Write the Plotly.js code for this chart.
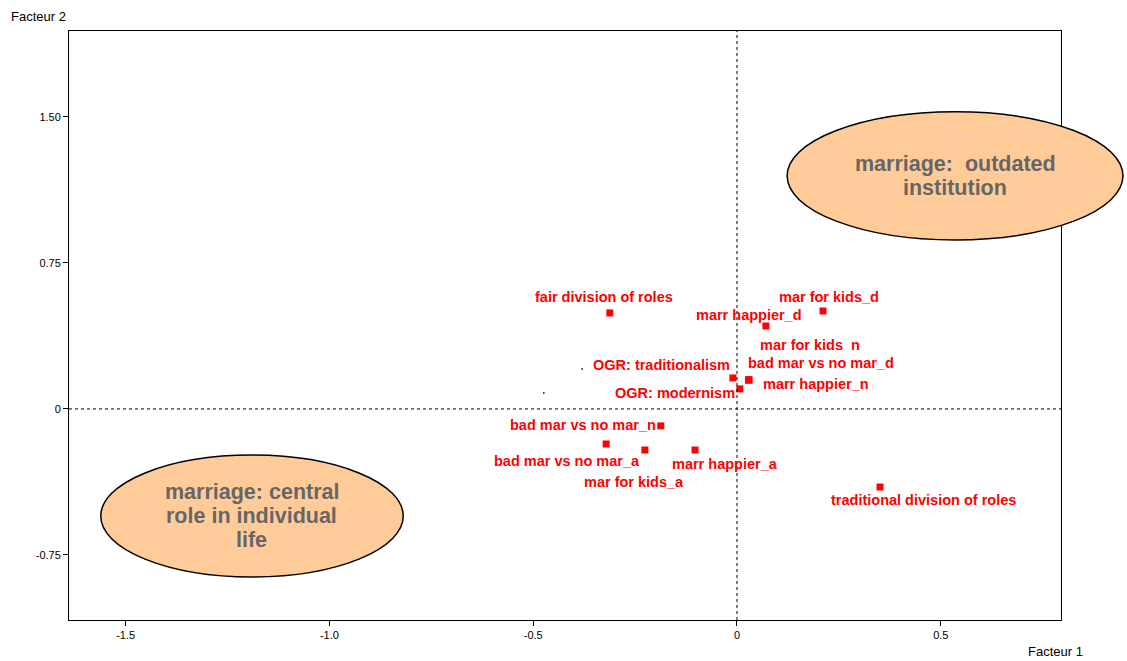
<!DOCTYPE html>
<html>
<head>
<meta charset="utf-8">
<script src="https://cdn.plot.ly/plotly-3.0.1.min.js"></script>
<style>html,body{margin:0;padding:0;background:#fff;}#chart{width:1127px;height:661px;}</style>
</head>
<body>
<div id="chart"></div>
<script>
// Category points (Facteur 1, Facteur 2)
const labels = [
  "fair division of roles", "mar for kids_d", "marr happier_d",
  "mar for kids  n", "bad mar vs no mar_d", "marr happier_n",
  "OGR: traditionalism", "OGR: modernism",
  "bad mar vs no mar_n", "bad mar vs no mar_a", "mar for kids_a",
  "marr happier_a", "traditional division of roles"
];
const f1 = [-0.312, 0.211, 0.071, 0.029, 0.029, 0.029, -0.010, 0.007, -0.187, -0.321, -0.226, -0.103, 0.351];
const f2 = [0.493, 0.503, 0.426, 0.149, 0.149, 0.149, 0.159, 0.103, -0.087, -0.180, -0.211, -0.211, -0.401];
// label offsets in pixels (dx right, dy down)
const labelDx = [-6, 6, -17, 61, 72, 67, -71, -65, -78, -39, -11, 30, 43];
const labelDy = [-16, -14, -11, -35, -17, 4, -13, 4, -1, 17, 32, 14, 13];

// supplementary small dots
const dotF1 = [-0.380, -0.474];
const dotF2 = [0.205, 0.082];

// Axis ticks
const xTickVals = [-1.5, -1.0, -0.5, 0, 0.5];
const xTickText = ["-1.5", "-1.0", "-0.5", "0", "0.5"];
const yTickVals = [1.5, 0.75, 0, -0.75];
const yTickText = ["1.50", "0.75", "0", "-0.75"];

// Ellipse zones: center f1, center f2, radius f1, radius f2, text lines
const zoneCx = [0.535, -1.190];
const zoneCy = [1.197, -0.550];
const zoneRx = [0.412, 0.371];
const zoneRy = [0.329, 0.313];
const zoneText = [["marriage:  outdated", "institution"], ["marriage: central", "role in individual", "life"]];

const xRange = [-1.639, 0.795];
const yRange = [-1.084, 1.941];

const toPX = v => (v - xRange[0]) / (xRange[1] - xRange[0]);
const toPY = v => (v - yRange[0]) / (yRange[1] - yRange[0]);

const shapes = [
  {type: 'line', xref: 'x', yref: 'paper', x0: 0, x1: 0, y0: 0, y1: 1,
   line: {color: '#000', width: 1, dash: 'dot'}},
  {type: 'line', xref: 'paper', yref: 'y', x0: 0, x1: 1, y0: 0, y1: 0,
   line: {color: '#000', width: 1, dash: 'dot'}}
];
zoneCx.forEach((cx, i) => {
  shapes.push({type: 'circle', xref: 'paper', yref: 'paper',
    x0: toPX(cx - zoneRx[i]), x1: toPX(cx + zoneRx[i]),
    y0: toPY(zoneCy[i] - zoneRy[i]), y1: toPY(zoneCy[i] + zoneRy[i]),
    fillcolor: '#ffcc99', line: {color: '#000', width: 1.5}, layer: 'above'});
});

const annotations = [];
labels.forEach((t, i) => {
  annotations.push({x: f1[i], y: f2[i], xref: 'x', yref: 'y', text: t, showarrow: false,
    xshift: labelDx[i], yshift: -labelDy[i], xanchor: 'center', yanchor: 'middle',
    font: {family: 'Liberation Sans, Arial, sans-serif', size: 14.5, color: '#ff0000', weight: 'bold'}});
});
const lineGap = 24;
zoneText.forEach((lines, i) => {
  const n = lines.length;
  lines.forEach((t, k) => {
    annotations.push({x: toPX(zoneCx[i]), y: toPY(zoneCy[i]), xref: 'paper', yref: 'paper', text: t,
      yshift: ((n - 1) / 2 - k) * lineGap,
      showarrow: false, xanchor: 'center', yanchor: 'middle',
      font: {family: 'Liberation Sans, Arial, sans-serif', size: 21.5, color: '#666666', weight: 'bold'}});
  });
});
annotations.push({text: 'Facteur 2', xref: 'paper', yref: 'paper', x: -0.06, y: 1.0, yshift: 15,
  xanchor: 'left', yanchor: 'middle', showarrow: false,
  font: {family: 'Liberation Sans, Arial, sans-serif', size: 13, color: '#000'}});
annotations.push({text: 'Facteur 1', xref: 'paper', yref: 'paper', x: 1.0245, y: 0, yshift: -31,
  xanchor: 'right', yanchor: 'middle', showarrow: false,
  font: {family: 'Liberation Sans, Arial, sans-serif', size: 13, color: '#000'}});

const traces = [
  {x: dotF1, y: dotF2, type: 'scatter', mode: 'markers',
   marker: {symbol: 'square', size: 1.5, color: '#000'}},
  {x: f1, y: f2, type: 'scatter', mode: 'markers', hoverinfo: 'text', text: labels,
   marker: {symbol: 'square', size: 7, color: '#ff0000'}, cliponaxis: false}
];

const axisCommon = {showgrid: false, zeroline: false, showline: true, linecolor: '#000', linewidth: 1,
  mirror: true, ticks: 'outside', ticklen: 5, tickcolor: '#000',
  tickfont: {family: 'Liberation Sans, Arial, sans-serif', size: 11, color: '#000'}};

const layout = {
  width: 1127, height: 661,
  margin: {l: 69, r: 66, t: 31, b: 41},
  paper_bgcolor: '#fff', plot_bgcolor: '#fff',
  showlegend: false,
  xaxis: Object.assign({}, axisCommon, {range: xRange, tickvals: xTickVals, ticktext: xTickText}),
  yaxis: Object.assign({}, axisCommon, {range: yRange, tickvals: yTickVals, ticktext: yTickText}),
  shapes: shapes,
  annotations: annotations
};

Plotly.newPlot('chart', traces, layout, {displayModeBar: false, staticPlot: true});
</script>
</body>
</html>
